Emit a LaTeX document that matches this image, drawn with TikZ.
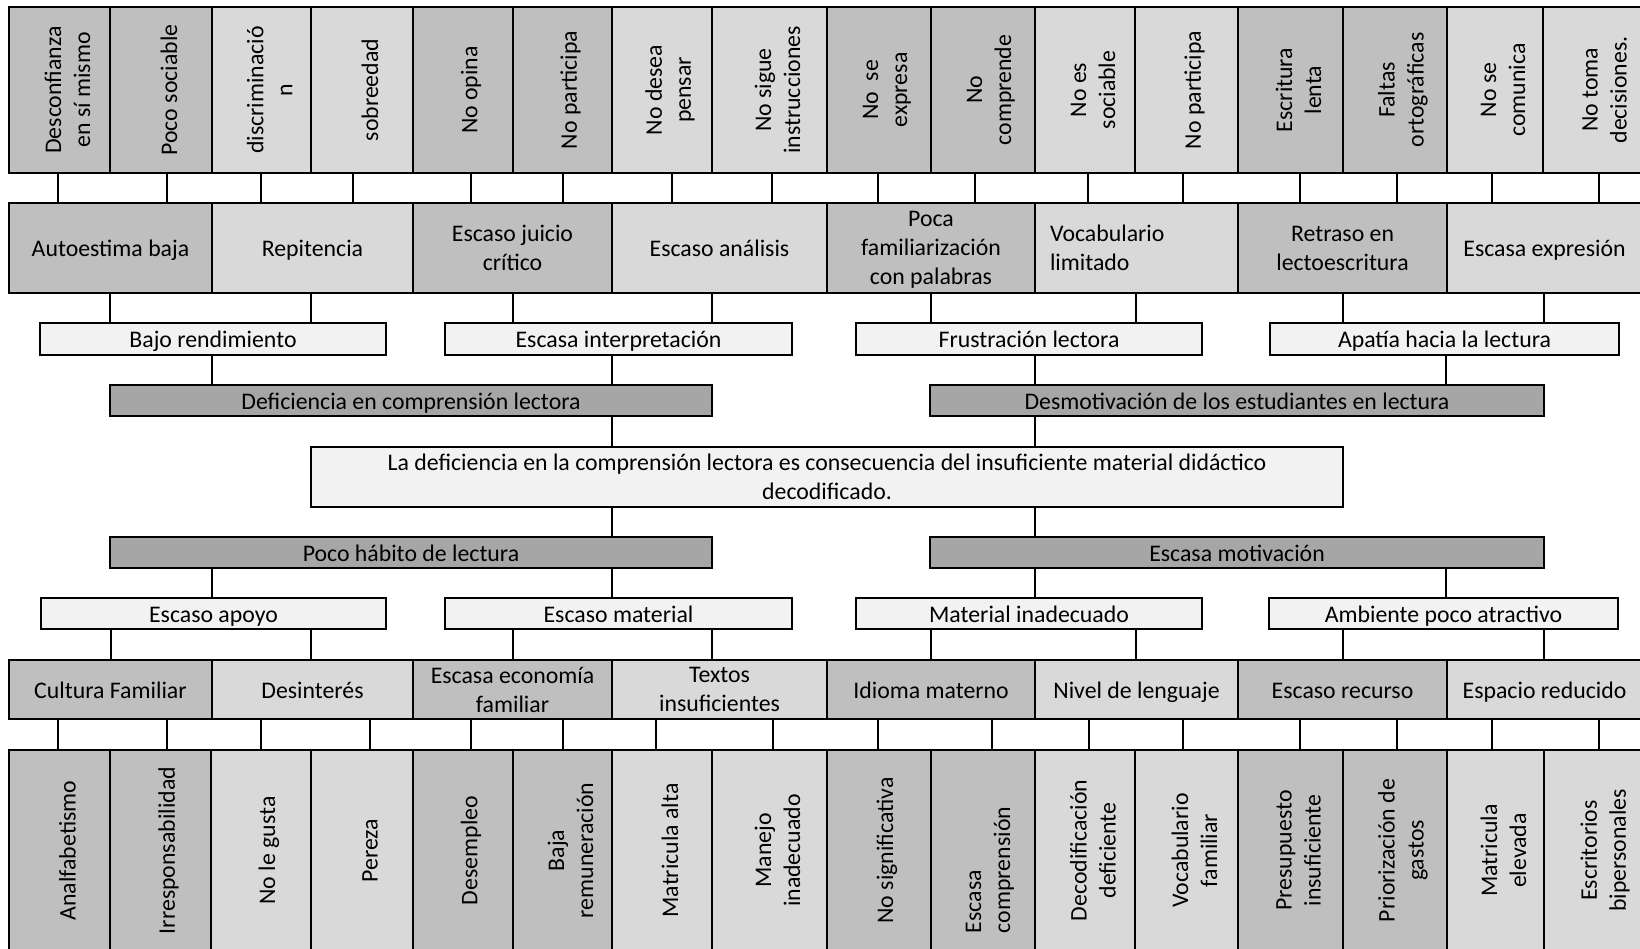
\documentclass[tikz,border=0pt]{standalone}
\usepackage{fontspec}
\setmainfont{Carlito}
\usetikzlibrary{calc}
\definecolor{gdark}{HTML}{BFBFBF}
\definecolor{glight}{HTML}{D9D9D9}
\definecolor{gpale}{HTML}{F2F2F2}
\definecolor{glevel}{HTML}{A6A6A6}
\begin{document}
\begin{tikzpicture}[x=1pt,y=-1pt,
  every node/.style={font=\fontsize{23.8pt}{29pt}\selectfont, inner sep=0pt, outer sep=0pt},
  box/.style={draw=black, line width=2pt, rectangle, align=center},
  sl/.style={text height=20pt, text depth=2pt},
  bdark/.style={box, fill=gdark},
  blight/.style={box, fill=glight},
  bpale/.style={box, fill=gpale},
  blevel/.style={box, fill=glevel},
  bdarkone/.style={bdark, sl},
  blightone/.style={blight, sl},
  bpaleone/.style={bpale, sl},
  blevelone/.style={blevel, sl},
  bthree/.style={bdark, text height=79pt, text depth=5pt},
  bvocab/.style={blight, text width=173pt, align=left},
  vtext/.style={rotate=90, align=center},
  conn/.style={line width=1.3pt}]
\fill[white] (0,0) rectangle (1640,949);
\useasboundingbox (0,0) rectangle (1640,949);
\clip (0,0) rectangle (1640,949);

% ---- top row (rotated texts)
\foreach \n/\xa/\xb/\st/\tx in {
  a1/9/110/bdark/{Desconfianza\\en sí mismo},
  a2/110/212/bdark/{Poco sociable},
  a3/212/311/blight/{discriminació\\n},
  a4/311/413/blight/{sobreedad},
  a5/413/513/bdark/{No opina},
  a6/513/612/bdark/{No participa},
  a7/612/712/blight/{No desea\\pensar},
  a8/712/827/blight/{No sigue\\instrucciones},
  a9/827/931/bdark/{No\ \ se\\expresa},
  a10/931/1035/bdark/{No\\comprende},
  a11/1035/1135/blight/{No es\\sociable},
  a12/1135/1238/blight/{No participa},
  a13/1238/1343/bdark/{Escritura\\lenta},
  a14/1343/1447/bdark/{Faltas\\ortográficas},
  a15/1447/1543/blight/{No se\\comunica},
  a16/1543/1650/blight/{No toma\\decisiones.}}
{
  \node[\st, minimum width={(\xb-\xa)*1pt}, minimum height=166pt] (\n) at ({(\xa+\xb)/2},90) {};
  \node[vtext] at ($(\n.center)+(8,0)$) {\tx};
}

% ---- second row
\foreach \n/\xa/\xb/\st/\tx in {
  b1/9/212/bdarkone/{Autoestima baja},
  b2/212/413/blightone/{Repitencia},
  b3/413/612/bdark/{Escaso juicio\\crítico},
  b4/612/827/blightone/{Escaso análisis},
  b5/827/1035/bthree/{Poca\\familiarización\\con palabras},
  b6/1035/1238/bvocab/{Vocabulario\\limitado},
  b7/1238/1447/bdark/{Retraso en\\lectoescritura},
  b8/1447/1642/blightone/{Escasa expresión}}
{
  \node[\st, minimum width={(\xb-\xa)*1pt}, minimum height=90pt] (\n) at ({(\xa+\xb)/2},248) {\tx};
}

% ---- third row
\foreach \n/\xa/\xb/\tx in {
  c1/40/386/{Bajo rendimiento},
  c2/445/792/{Escasa interpretación},
  c3/856/1202/{Frustración lectora},
  c4/1270/1619/{Apatía hacia la lectura}}
{
  \node[bpaleone, minimum width={(\xb-\xa)*1pt}, minimum height=32pt] (\n) at ({(\xa+\xb)/2},339) {\tx};
}

% ---- effects level
\node[blevelone, minimum width=602pt, minimum height=31pt] (d1) at (411,400.5) {Deficiencia en comprensión lectora};
\node[blevelone, minimum width=614pt, minimum height=31pt] (d2) at (1237,400.5) {Desmotivación de los estudiantes en lectura};

% ---- central problem
\node[bpale, minimum width=1032pt, minimum height=60pt] (e) at (827,477) {La deficiencia en la comprensión lectora es consecuencia del insuficiente material didáctico\\decodificado.};

% ---- causes level
\node[blevelone, minimum width=602pt, minimum height=31pt] (f1) at (411,552.5) {Poco hábito de lectura};
\node[blevelone, minimum width=614pt, minimum height=31pt] (f2) at (1237,552.5) {Escasa motivación};

\foreach \n/\xa/\xb/\tx in {
  g1/41/386/{Escaso apoyo},
  g2/445/792/{Escaso material},
  g3/856/1202/{Material inadecuado},
  g4/1269/1618/{Ambiente poco atractivo}}
{
  \node[bpaleone, minimum width={(\xb-\xa)*1pt}, minimum height=31pt] (\n) at ({(\xa+\xb)/2},613.5) {\tx};
}

\foreach \n/\xa/\xb/\st/\tx in {
  h1/9/212/bdarkone/{Cultura Familiar},
  h2/212/413/blightone/{Desinterés},
  h3/413/612/bdark/{Escasa economía\\familiar},
  h4/612/827/blight/{Textos\\insuficientes},
  h5/827/1035/bdarkone/{Idioma materno},
  h6/1035/1238/blightone/{Nivel de lenguaje},
  h7/1238/1447/bdarkone/{Escaso recurso},
  h8/1447/1642/blightone/{Espacio reducido}}
{
  \node[\st, minimum width={(\xb-\xa)*1pt}, minimum height=59pt] (\n) at ({(\xa+\xb)/2},689.5) {\tx};
}

% ---- bottom row boxes
\foreach \n/\xa/\xb/\st in {
  k1/9/110/bdark, k2/110/211/bdark, k3/211/311/blight, k4/311/413/blight,
  k5/413/513/bdark, k6/513/612/bdark, k7/612/712/blight, k8/712/827/blight,
  k9/827/931/bdark, k10/931/1035/bdark, k11/1035/1135/blight, k12/1135/1238/blight,
  k13/1238/1343/bdark, k14/1343/1447/bdark, k15/1447/1544/blight, k16/1544/1650/blight}
{
  \node[\st, minimum width={(\xb-\xa)*1pt}, minimum height=201pt] (\n) at ({(\xa+\xb)/2},850.5) {};
}
% ---- bottom row rotated texts
\foreach \n/\tx in {
  k1/{Analfabetismo}, k2/{Irresponsabilidad}, k3/{No le gusta}, k4/{Pereza},
  k5/{Desempleo}, k6/{Baja\\remuneración}, k7/{Matricula alta}, k8/{Manejo\\inadecuado},
  k9/{No significativa}, k11/{Decodificación\\deficiente}, k12/{Vocabulario\\familiar},
  k13/{Presupuesto\\insuficiente}, k14/{Priorización de\\gastos}, k15/{Matricula\\elevada},
  k16/{Escritorios\\bipersonales}}
{
  \node[vtext] at ($(\n.center)+(8,0)$) {\tx};
}
\node[vtext, align=left, anchor=west] at ($(k10.center |- 0,933)+(7,0)$) {Escasa\\comprensión};

% ---- connectors
\foreach \x/\f/\t in {
  58/a1/b1, 167/a2/b1, 261/a3/b2, 353/a4/b2, 471/a5/b3, 563/a6/b3, 672/a7/b4, 772/a8/b4,
  878/a9/b5, 975/a10/b5, 1088/a11/b6, 1183/a12/b6, 1300/a13/b7, 1397/a14/b7, 1492/a15/b8, 1599/a16/b8,
  110/b1/c1, 311/b2/c1, 513/b3/c2, 712/b4/c2, 931/b5/c3, 1136/b6/c3, 1343/b7/c4, 1544/b8/c4,
  212/c1/d1, 612/c2/d1, 1035/c3/d2, 1446/c4/d2,
  612/d1/e, 1035/d2/e, 612/e/f1, 1035/e/f2,
  212/f1/g1, 612/f1/g2, 1035/f2/g3, 1446/f2/g4,
  111/g1/h1, 311/g1/h2, 513/g2/h3, 712/g2/h4, 931/g3/h5, 1136/g3/h6, 1343/g4/h7, 1544/g4/h8,
  58/h1/k1, 167/h1/k2, 261/h2/k3, 370/h2/k4, 471/h3/k5, 563/h3/k6, 656/h4/k7, 773/h4/k8,
  878/h5/k9, 992/h5/k10, 1089/h6/k11, 1183/h6/k12, 1300/h7/k13, 1397/h7/k14, 1492/h8/k15, 1599/h8/k16}
{
  \coordinate (cx) at (\x,0);
  \draw[conn] (cx |- \f.south) -- (cx |- \t.north);
}
\end{tikzpicture}
\end{document}
